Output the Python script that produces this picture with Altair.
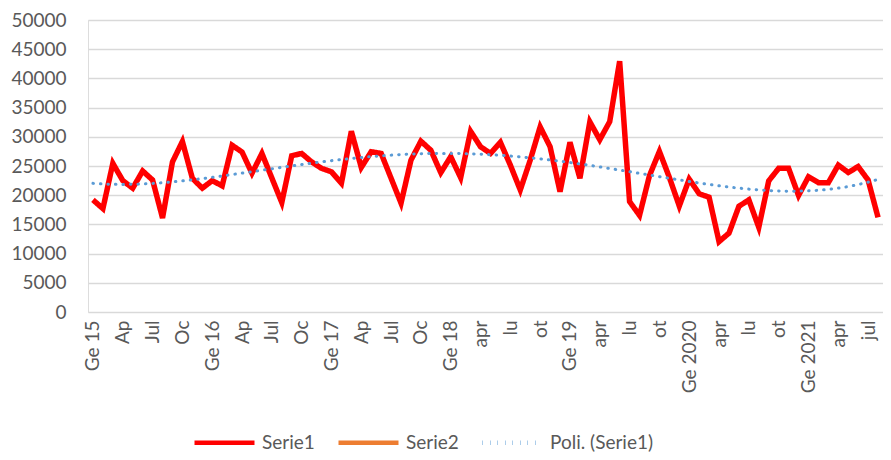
import altair as alt
import pandas as pd

# Monthly values, Jan 2015 .. Aug 2021 (80 months)
serie1 = [
    19200, 17700, 25450, 22500, 21200, 24150, 22600, 16100, 25700, 29200, 22900, 21200,   # 2015
    22500, 21600, 28550, 27400, 23750, 27150, 22950, 18750, 26750, 27150, 25700, 24600,   # 2016
    24000, 22050, 30950, 24750, 27450, 27150, 22900, 18650, 26000, 29250, 27700, 23850,   # 2017
    26600, 23000, 30950, 28300, 27150, 29050, 25150, 20900, 26000, 31700, 28300, 20600,   # 2018
    29050, 22900, 32550, 29500, 32600, 42950, 18900, 16550, 23350, 27500, 23050, 18150,   # 2019
    22750, 20250, 19650, 12050, 13500, 18100, 19200, 14500, 22450, 24600, 24600, 19950,   # 2020
    23150, 22150, 22150, 25150, 23900, 24900, 22600, 16200,                               # 2021
]

tick_labels = [
    "Ge 15", "Ap", "Jul", "Oc", "Ge 16", "Ap", "Jul", "Oc", "Ge 17", "Ap", "Jul", "Oc",
    "Ge 18", "apr", "lu", "ot", "Ge 19", "apr", "lu", "ot", "Ge 2020", "apr", "lu", "ot",
    "Ge 2021", "apr", "jul",
]

series_names = ["Serie1", "Serie2", "Poli. (Serie1)"]
series_colors = ["#FF0000", "#ED7D31", "#5B9BD5"]
series_dash = [[1, 0], [1, 0], [0.5, 7]]

df = pd.DataFrame({"m": list(range(len(serie1))), "v": serie1, "series": "Serie1"})

tick_values = list(range(0, len(serie1), 3))
label_js = "[" + ",".join('"%s"' % t for t in tick_labels) + "]"

FONT = "Lato"
GREY = "#595959"

x_enc = alt.X(
    "m:Q",
    scale=alt.Scale(domain=[-0.5, len(serie1) - 0.5], nice=False, zero=False),
    axis=alt.Axis(
        values=tick_values,
        labelExpr=label_js + "[round(datum.value/3)]",
        labelAngle=-90,
        labelFontSize=19,
        labelColor=GREY,
        labelFont=FONT,
        labelPadding=8,
        ticks=False,
        domain=False,
        grid=False,
        title=None,
        labelOverlap=False,
    ),
)
y_enc = alt.Y(
    "v:Q",
    scale=alt.Scale(domain=[0, 50000], nice=False),
    axis=alt.Axis(
        values=list(range(0, 50001, 5000)),
        format="d",
        labelFontSize=19,
        labelColor=GREY,
        labelFont=FONT,
        labelPadding=22,
        ticks=False,
        domain=False,
        gridColor="#D9D9D9",
        gridWidth=1.3,
        title=None,
    ),
)

LEG_X = 104
LEG_Y = 390

color_enc = alt.Color(
    "series:N",
    scale=alt.Scale(domain=series_names, range=series_colors),
    legend=alt.Legend(
        title=None,
        orient="none",
        direction="horizontal",
        legendX=LEG_X,
        legendY=LEG_Y,
        symbolType="stroke",
        symbolSize=3600,
        symbolStrokeWidth=4.5,
        labelFontSize=19,
        labelFont=FONT,
        labelColor=GREY,
        labelOffset=5,
        columnPadding=14,
        symbolOpacity=1,
    ),
)
dash_enc = alt.StrokeDash(
    "series:N",
    scale=alt.Scale(domain=series_names, range=series_dash),
    legend=alt.Legend(title=None, orient="none", legendX=LEG_X, legendY=LEG_Y, direction="horizontal"),
)

line = alt.Chart(df).mark_line(strokeWidth=5.5, strokeJoin="miter", strokeCap="butt").encode(
    x=x_enc, y=y_enc, color=color_enc, strokeDash=dash_enc
)

trend = (
    alt.Chart(df)
    .transform_regression("m", "v", method="poly", order=4, extent=[0, len(serie1) - 1])
    .transform_calculate(series="'Poli. (Serie1)'")
    .mark_line(strokeWidth=3, strokeCap="round")
    .encode(x=x_enc, y=y_enc, color=color_enc, strokeDash=dash_enc)
)

chart = (
    alt.layer(line, trend)
    .properties(
        width=795,
        height=292,
        autosize=alt.AutoSizeParams(type="none"),
        padding={"left": 80, "top": 12, "right": 0, "bottom": 140},
    )
    .configure_view(stroke=None)
    .configure(background="white")
)

chart.save("out.html", embed_options={"renderer": "svg", "actions": False})
